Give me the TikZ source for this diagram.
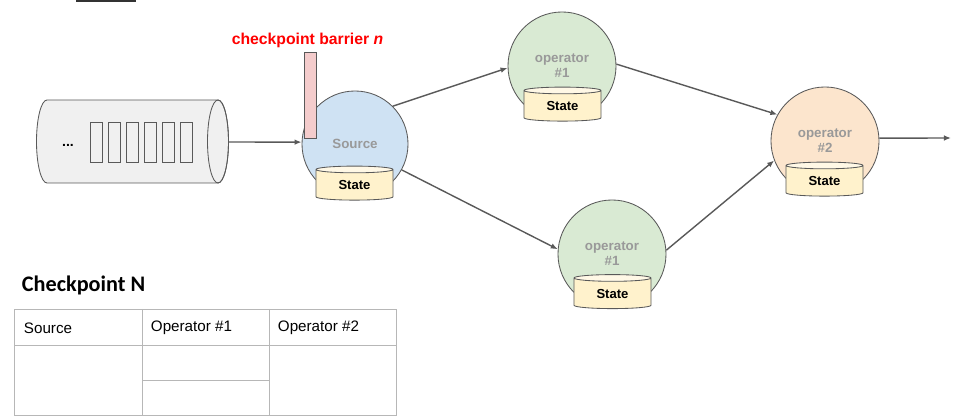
\documentclass[tikz,border=0pt]{standalone}
\usepackage{fontspec}
\setmainfont{Liberation Sans}
\newfontfamily\titlefont{Carlito}
\usetikzlibrary{arrows.meta, positioning, shapes.geometric}
\definecolor{srcblue}{HTML}{CFE2F3}
\definecolor{opgreen}{HTML}{D9EAD3}
\definecolor{oppeach}{HTML}{FCE5CD}
\definecolor{stateyellow}{HTML}{FFF2CC}
\definecolor{barrierpink}{HTML}{F4CCCC}
\definecolor{queuegray}{HTML}{F0F0F0}
\definecolor{linegray}{HTML}{595959}
\definecolor{textgray}{HTML}{999999}
\definecolor{tablegray}{HTML}{B7B7B7}
\tikzset{
    task/.style={circle, draw=linegray, line width=.6pt, minimum size=2.7cm, inner sep=0pt,
        align=center, text=textgray, font=\fontsize{9.5}{10.5}\selectfont\bfseries},
    state/.style={cylinder, shape border rotate=90, aspect=.21, draw=linegray, line width=.6pt,
        cylinder uses custom fill, cylinder body fill=stateyellow, cylinder end fill=stateyellow!50!white,
        minimum width=1.925cm, minimum height=.85cm, inner sep=0pt, font=\fontsize{9.3}{10}\selectfont\bfseries},
    slot/.style={rectangle, draw=linegray, line width=.6pt, minimum width=.3cm, minimum height=1cm, inner sep=0pt},
    flow/.style={->, draw=linegray, line width=1pt},
    cell/.style={anchor=west, font=\fontsize{10.8}{12}\selectfont},
}
\begin{document}
\begin{tikzpicture}[>={Latex[length=5pt,width=4pt]}, x=.025cm, y=-.025cm]
    \useasboundingbox (0, 0) rectangle (954, 419);
    \fill[black!80] (76, 0) rectangle (136, 2);
    % input queue
    \draw[linegray, line width=.6pt, fill=queuegray] (47, 100) -- (218, 100)
        arc[start angle=-90, end angle=90, x radius=10.5, y radius=41.5] -- (47, 183)
        arc[start angle=90, end angle=270, x radius=10.5, y radius=41.5] -- cycle;
    \draw[linegray, line width=.6pt] (218, 141.5) ellipse [x radius=10.5, y radius=41.5];
    \coordinate (queue) at (228.5, 142);
    \node (dots) at (68, 145) {\bfseries ...};
    \foreach \i in {0,...,5}
        \node[slot] (s\i) at (96 + 18*\i, 142) {};
    % operators
    \node[task, fill=srcblue, minimum size=2.65cm] (src) at (355, 144) {Source};
    \node[task, fill=opgreen] (opa) at (562, 66) {operator\\\#1};
    \node[task, fill=opgreen] (opb) at (612, 254) {operator\\\#1};
    \node[task, fill=oppeach] (opc) at (825, 141) {operator\\\#2};
    \node[state] (srcstate) at (354.5, 185) {State};
    \node[state] (opastate) at (562.5, 106) {State};
    \node[state] (opbstate) at (612.5, 293.5) {State};
    \node[state] (opcstate) at (824.5, 181) {State};
    % barrier
    \node[rectangle, draw=linegray, line width=.6pt, fill=barrierpink, minimum width=.3cm,
        minimum height=2.15cm, inner sep=0pt] (barrier) at (310, 95) {};
    \node[text=red, font=\fontsize{11.2}{13}\selectfont\bfseries] (blabel) at (307.5, 40)
        {checkpoint barrier \textit{n}};
    % streams
    \coordinate (out) at (951, 138);
    \draw[flow] (queue) -- (src.178);
    \draw[flow] (src.45) -- (opa.182);
    \draw[flow] (src.-29) -- (opb.175);
    \draw[flow] (opa.2) -- (opc.151);
    \draw[flow] (opb.4) -- (opc.-159);
    \draw[flow] (opc.3) -- (out);
    % checkpoint table
    \node[anchor=west, font=\titlefont\fontsize{15.8}{18}\selectfont\bfseries] (title) at (17, 285) {Checkpoint N};
    \draw[tablegray, line width=.7pt] (14, 309) rectangle (396, 415);
    \draw[tablegray, line width=.7pt] (14, 345) -- (396, 345);
    \draw[tablegray, line width=.7pt] (142, 309) -- (142, 415);
    \draw[tablegray, line width=.7pt] (269, 309) -- (269, 415);
    \draw[tablegray, line width=.7pt] (142, 380) -- (269, 380);
    \node[cell] (hsrc) at (19, 328) {Source};
    \node[cell] (hopa) at (146, 328) {Operator \#1};
    \node[cell] (hopc) at (273, 328) {Operator \#2};
\end{tikzpicture}
\end{document}
